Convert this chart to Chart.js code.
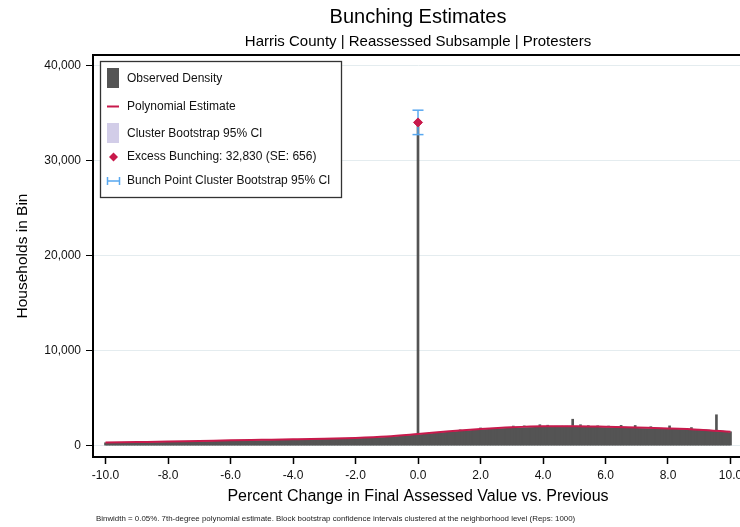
<!DOCTYPE html>
<html>
<head>
<meta charset="utf-8">
<script src="https://cdn.jsdelivr.net/npm/chart.js@4.4.1/dist/chart.umd.min.js"></script>
<style>
  html, body { margin: 0; padding: 0; background: #fff; overflow: hidden; }
  #wrap { width: 740px; height: 527px; overflow: hidden; position: relative; }
  canvas { display: block; }
</style>
</head>
<body>
<div id="wrap"><canvas id="chart" width="760" height="527"></canvas></div>
<script>
// ---- data ----------------------------------------------------------------
const binStart = -10;      // percent change, first bin
const binWidth = 0.05;     // percent

// Households per 0.05% bin, one row per percentage point (-10 ... 9.95), then 10.00
const observedCounts = [
  300,310,295,320,305,315,300,330,310,305,320,315,325,310,330,320,335,325,340,330,
  350,345,360,355,365,350,370,360,375,365,370,380,365,375,390,380,385,395,390,400,
  405,400,415,410,420,415,425,430,420,435,430,440,435,445,440,450,445,455,450,460,
  465,470,460,475,480,470,490,485,480,495,500,490,505,510,500,515,520,510,525,530,
  540,535,545,550,540,555,560,550,565,555,570,565,575,560,580,575,585,570,590,585,
  590,595,600,590,605,600,610,605,615,610,620,615,625,620,630,625,635,630,640,635,
  640,650,645,655,650,660,655,665,660,670,665,675,670,680,675,685,690,685,695,700,
  705,700,710,715,720,715,730,725,735,740,735,745,750,745,760,765,760,775,770,780,
  790,800,795,810,805,820,815,830,825,840,845,850,855,865,870,880,885,895,900,915,
  930,940,950,960,975,985,995,1010,1020,1035,1050,1060,1075,1090,1105,1120,1135,1150,1165,1180,
  34050,1200,1215,1225,1240,1250,1265,1280,1290,1305,1320,1330,1345,1355,1370,1380,1395,1405,1420,1430,
  1450,1465,1475,1490,1500,1510,1520,1660,1545,1560,1570,1580,1590,1600,1610,1620,1635,1645,1655,1665,
  1860,1715,1725,1735,1745,1755,1765,1775,1785,1795,1805,1815,1825,1835,1845,1855,1860,1870,1880,1890,
  1900,2060,1915,1920,1930,1935,1945,1950,2080,1965,1970,1975,1980,1985,1990,1995,2000,2005,2200,2015,
  2020,2025,2020,2150,2030,2025,2035,2030,2040,2035,2040,2030,2045,2040,2035,2045,2040,2035,2050,2780,
  2030,2035,2040,2030,2200,2025,2035,2030,2020,2100,2025,2015,2020,2010,2015,2080,2005,2000,1995,2000,
  1990,1985,2060,1980,1975,1970,1965,1960,1955,1950,2130,1945,1940,1935,1930,1925,1920,1915,1910,2120,
  1900,1895,1890,1885,1880,1875,1870,1865,1860,1990,1855,1850,1845,1840,1835,1830,1825,1820,1815,1810,
  1805,2080,1795,1790,1785,1780,1775,1770,1765,1760,1755,1750,1745,1740,1735,1900,1725,1720,1710,1705,
  1690,1680,1670,1660,1650,1640,1630,1620,1610,1600,1590,3250,1570,1560,1545,1530,1515,1500,1490,1475,
  1460
];

// 7th-degree polynomial counterfactual, evaluated at whole percentage points
const polyX = [-10,-9,-8,-7,-6,-5,-4,-3,-2,-1,0,1,2,3,4,5,6,7,8,9,10];
const polyY = [320,370,420,480,560,610,660,720,810,960,1220,1500,1740,1930,2040,2050,1990,1900,1810,1680,1460];
// cluster bootstrap 95% band around the polynomial
const ciLower = [280,330,385,445,525,575,625,685,770,920,1180,1455,1695,1885,1995,2005,1945,1855,1765,1635,1405];
const ciUpper = [360,410,455,515,595,645,695,755,850,1000,1260,1545,1785,1975,2085,2095,2035,1945,1855,1725,1515];

// bunching estimate at the zero-change point
const bunchPoint = 0;
const excessBunching = 32830;
const excessSE = 656;

const xTickValues = [-10,-8,-6,-4,-2,0,2,4,6,8,10];
const yTickValues = [0,10000,20000,30000,40000];

// ---- derived series --------------------------------------------------------
const barPoints = observedCounts.map((v, i) => ({ x: +(binStart + i * binWidth).toFixed(2), y: v }));
const polyPoints = polyX.map((x, i) => ({ x, y: polyY[i] }));
const lowerPoints = polyX.map((x, i) => ({ x, y: ciLower[i] }));
const upperPoints = polyX.map((x, i) => ({ x, y: ciUpper[i] }));
const baseAtBunch = polyY[polyX.indexOf(bunchPoint)];
const bunchValue = baseAtBunch + excessBunching;
const bunchLow = bunchValue - 1.96 * excessSE;
const bunchHigh = bunchValue + 1.96 * excessSE;

const RED = '#c8194b';
const BLUE = '#58a8f0';
const GRAY = '#545454';
const LAVENDER = '#d2cde8';
const FONT = '"Liberation Sans", Arial, Helvetica, sans-serif';

const legendEntries = [
  'Observed Density',
  'Polynomial Estimate',
  'Cluster Bootstrap 95% CI',
  'Excess Bunching: ' + excessBunching.toLocaleString('en-US') + ' (SE: ' + excessSE + ')',
  'Bunch Point Cluster Bootstrap 95% CI'
];

// Titles, frame top edge, legend box and note
const decorations = {
  id: 'decorations',
  afterDatasetsDraw(chart) {
    const ctx = chart.ctx;
    const a = chart.chartArea;
    ctx.save();

    // top edge of the plot frame
    ctx.strokeStyle = '#000';
    ctx.lineWidth = 2;
    ctx.beginPath();
    ctx.moveTo(a.left - 1, a.top);
    ctx.lineTo(a.right, a.top);
    ctx.stroke();

    // legend box
    ctx.fillStyle = '#fff';
    ctx.fillRect(100, 61, 242, 137);
    ctx.strokeStyle = '#333';
    ctx.lineWidth = 1.3;
    ctx.strokeRect(100.5, 61.5, 241, 136);

    const rows = [79, 106.5, 134, 157, 181];
    // observed density swatch
    ctx.fillStyle = GRAY;
    ctx.fillRect(107, 68, 12, 20);
    // polynomial line
    ctx.strokeStyle = RED;
    ctx.lineWidth = 2;
    ctx.beginPath(); ctx.moveTo(107, rows[1]); ctx.lineTo(119, rows[1]); ctx.stroke();
    // CI swatch
    ctx.fillStyle = LAVENDER;
    ctx.fillRect(107, 123, 12, 20);
    // diamond
    ctx.fillStyle = RED;
    ctx.beginPath();
    ctx.moveTo(113.5, rows[3] - 4.5); ctx.lineTo(118, rows[3]);
    ctx.lineTo(113.5, rows[3] + 4.5); ctx.lineTo(109, rows[3]);
    ctx.closePath(); ctx.fill();
    // capped range glyph
    ctx.strokeStyle = BLUE;
    ctx.lineWidth = 1.5;
    ctx.beginPath();
    ctx.moveTo(107.5, rows[4]); ctx.lineTo(119.5, rows[4]);
    ctx.moveTo(107.5, rows[4] - 4); ctx.lineTo(107.5, rows[4] + 4);
    ctx.moveTo(119.5, rows[4] - 4); ctx.lineTo(119.5, rows[4] + 4);
    ctx.stroke();

    ctx.fillStyle = '#111';
    ctx.font = '12px ' + FONT;
    ctx.textBaseline = 'middle';
    ctx.textAlign = 'left';
    legendEntries.forEach((t, i) => ctx.fillText(t, 127, rows[i]));

    // titles
    const cx = (a.left + a.right) / 2;
    ctx.textAlign = 'center';
    ctx.fillStyle = '#000';
    ctx.font = '20px ' + FONT;
    ctx.fillText('Bunching Estimates', cx, 17);
    ctx.font = '15px ' + FONT;
    ctx.fillText('Harris County | Reassessed Subsample | Protesters', cx, 42);

    // note
    ctx.textAlign = 'left';
    ctx.fillStyle = '#222';
    ctx.font = '7.9px ' + FONT;
    ctx.fillText('Binwidth = 0.05%. 7th-degree polynomial estimate. Block bootstrap confidence intervals clustered at the neighborhood level (Reps: 1000)', 96, 519);

    ctx.restore();
  }
};

new Chart(document.getElementById('chart'), {
  type: 'bar',
  data: {
    datasets: [
      {
        type: 'scatter',
        label: 'Excess Bunching',
        data: [{ x: bunchPoint, y: bunchValue }],
        pointStyle: 'rectRot',
        pointRadius: 4.5,
        backgroundColor: RED,
        borderColor: RED,
        borderWidth: 1,
        order: 1
      },
      {
        type: 'line',
        label: 'Bunch Point Cluster Bootstrap 95% CI',
        data: [{ x: bunchPoint, y: bunchLow }, { x: bunchPoint, y: bunchHigh }],
        borderColor: BLUE,
        borderWidth: 1.5,
        pointStyle: 'line',
        pointRadius: 5.5,
        pointBorderColor: BLUE,
        pointBorderWidth: 1.5,
        fill: false,
        order: 2
      },
      {
        type: 'line',
        label: 'Polynomial Estimate',
        data: polyPoints,
        borderColor: RED,
        borderWidth: 2,
        pointRadius: 0,
        cubicInterpolationMode: 'monotone',
        fill: false,
        order: 3
      },
      {
        type: 'line',
        label: 'CI upper',
        data: upperPoints,
        borderWidth: 0,
        borderColor: 'rgba(0,0,0,0)',
        backgroundColor: LAVENDER,
        pointRadius: 0,
        cubicInterpolationMode: 'monotone',
        fill: '+1',
        order: 4
      },
      {
        type: 'line',
        label: 'CI lower',
        data: lowerPoints,
        borderWidth: 0,
        borderColor: 'rgba(0,0,0,0)',
        pointRadius: 0,
        cubicInterpolationMode: 'monotone',
        fill: false,
        order: 4
      },
      {
        type: 'bar',
        label: 'Observed Density',
        data: barPoints,
        backgroundColor: GRAY,
        borderWidth: 0,
        barThickness: 2,
        grouped: false,
        order: 5
      }
    ]
  },
  options: {
    responsive: false,
    animation: false,
    devicePixelRatio: 1,
    layout: { padding: { top: 55, right: 17, bottom: 0, left: 0 } },
    plugins: {
      legend: { display: false },
      tooltip: { enabled: false },
      title: { display: false }
    },
    scales: {
      x: {
        type: 'linear',
        min: -10.4,
        max: 10.4,
        offset: false,
        afterFit(scale) { scale.height = 70; },
        afterBuildTicks(scale) { scale.ticks = xTickValues.map(v => ({ value: v })); },
        grid: {
          drawOnChartArea: false,
          drawTicks: true,
          tickLength: 7,
          tickColor: '#000',
          tickWidth: 1.5,
          offset: false
        },
        border: { display: true, color: '#000', width: 2 },
        ticks: {
          padding: 4,
          maxRotation: 0,
          autoSkip: false,
          color: '#111',
          font: { family: FONT, size: 12 },
          callback: v => Number(v).toFixed(1)
        },
        title: {
          display: true,
          text: 'Percent Change in Final Assessed Value vs. Previous',
          color: '#000',
          font: { family: FONT, size: 16 },
          padding: { top: 0, bottom: 20.4 }
        }
      },
      y: {
        type: 'linear',
        min: -1200,
        max: 41150,
        afterFit(scale) { scale.width = 93; },
        afterBuildTicks(scale) { scale.ticks = yTickValues.map(v => ({ value: v })); },
        grid: {
          drawOnChartArea: true,
          color: '#e4ecef',
          lineWidth: 1,
          drawTicks: true,
          tickLength: 7,
          tickColor: '#000',
          tickWidth: 1
        },
        border: { display: true, color: '#000', width: 2 },
        ticks: {
          padding: 5,
          color: '#111',
          font: { family: FONT, size: 12 },
          callback: v => Number(v).toLocaleString('en-US')
        },
        title: {
          display: true,
          text: 'Households in Bin',
          color: '#000',
          font: { family: FONT, size: 15.5 },
          padding: { top: 13, bottom: 0 }
        }
      }
    }
  },
  plugins: [decorations]
});
</script>
</body>
</html>
